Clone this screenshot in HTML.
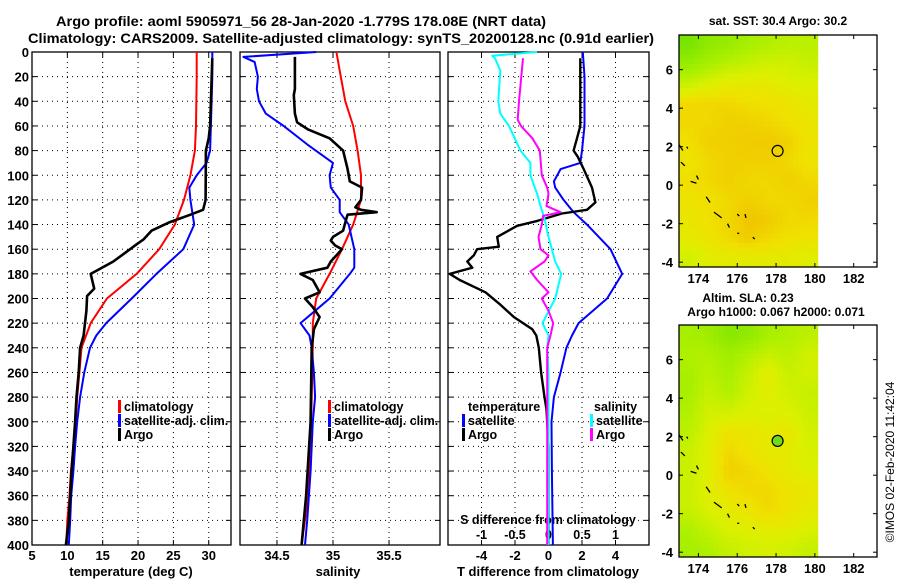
<!DOCTYPE html>
<html><head><meta charset="utf-8"><style>
html,body{margin:0;padding:0;background:#fff}
svg{display:block}
text{font-family:"Liberation Sans",Arial,sans-serif;font-weight:bold;fill:#000}
</style></head><body>
<svg id="fig" width="900" height="580" viewBox="0 0 900 580" xmlns="http://www.w3.org/2000/svg">
<text x="56" y="26" font-size="14" textLength="490" lengthAdjust="spacingAndGlyphs">Argo profile: aoml 5905971_56 28-Jan-2020 -1.779S 178.08E (NRT data)</text>
<text x="28" y="43" font-size="14" textLength="626" lengthAdjust="spacingAndGlyphs">Climatology: CARS2009. Satellite-adjusted climatology: synTS_20200128.nc (0.91d earlier)</text>
<text x="778" y="25" font-size="12" text-anchor="middle">sat. SST: 30.4 Argo: 30.2</text>
<text x="748" y="302" font-size="12" text-anchor="middle">Altim. SLA: 0.23</text>
<text x="776" y="316" font-size="12" text-anchor="middle">Argo h1000: 0.067 h2000: 0.071</text>
<text transform="translate(894,462) rotate(-90)" font-size="12" font-weight="normal" style="font-weight:normal" text-anchor="middle">©IMOS 02-Feb-2020 11:42:04</text>
<g id="plots"></g>
</svg>
<script>
// ---- data (depth in m) ----
const tClimDepth = [0,20,60,80,100,120,140,160,180,200,220,240,260,280,300,320,340,360,380,400];
const tClimVal   = [28.3,28.3,28.2,28.05,27.4,26.5,25.2,23.0,19.8,15.6,13.3,12.0,11.7,11.4,11.2,10.85,10.5,10.3,10.0,9.85];
const tSatDepth = [0,20,60,80,90,100,110,120,140,160,180,200,220,230,240,260,280,300,320,340,360,380,400];
const tSatVal   = [30.5,30.5,30.3,30.2,29.7,28.3,27.25,27.4,27.95,26.4,22.6,19.1,15.5,14.1,13.2,12.4,11.8,11.4,11.1,10.85,10.55,10.4,10.2];
const tArgoDepth = [5,60,70,80,120,128,132,138,145,152,156,162,170,176,180,192,198,210,230,240,260,280,300,320,340,360,380,400];
const tArgoVal   = [30.5,30.2,30.0,29.6,29.55,29.2,27.4,24.5,21.9,20.8,19.8,18.4,16.5,14.6,13.3,13.8,12.8,12.7,12.3,11.8,11.6,11.3,11.1,10.85,10.6,10.4,10.2,9.8];

const sClimDepth = [0,20,40,60,80,100,120,140,160,180,200,220,240,280,320,360,400];
const sClimVal   = [35.03,35.07,35.11,35.18,35.22,35.25,35.25,35.18,35.08,34.97,34.85,34.82,34.82,34.81,34.80,34.78,34.72];
const sSatDepth = [0,4,8,20,30,40,50,60,75,90,100,110,120,130,140,160,175,180,200,210,220,230,240,260,280,300,340,380,400];
const sSatVal   = [34.85,34.2,34.3,34.33,34.32,34.34,34.4,34.56,34.77,35.0,34.97,34.98,35.06,35.06,35.14,35.19,35.19,35.15,34.97,34.84,34.71,34.79,34.81,34.83,34.84,34.82,34.8,34.77,34.75];
const sArgoDepth = [4,30,35,50,57,63,70,80,95,105,110,120,126,128,130,132,135,145,150,153,157,160,170,175,180,185,195,200,207,215,225,240,300,360,400];
const sArgoVal   = [34.66,34.66,34.65,34.66,34.68,34.78,34.97,35.09,35.13,35.15,35.26,35.25,35.2,35.25,35.39,35.13,35.12,35.09,35.0,34.98,35.02,35.08,34.98,34.95,34.71,34.82,34.88,34.75,34.82,34.88,34.83,34.81,34.8,34.76,34.72];

const dtSatDepth = [0,20,60,80,90,95,105,110,120,130,140,160,180,200,220,230,240,260,280,300,340,400];
const dtSatVal   = [2.05,2.15,2.15,2.0,1.9,0.72,0.32,0.4,0.9,1.5,2.3,3.7,4.4,3.5,1.8,1.4,1.07,0.72,0.32,0.18,0.2,0.26];
const dtArgoDepth = [5,60,70,80,85,95,110,122,128,131,137,141,150,158,160,165,170,175,180,185,195,205,215,225,230,240,260,280,290,320,360,400];
const dtArgoVal   = [1.9,1.9,1.7,1.5,1.75,2.1,2.6,2.8,2.3,0.8,-0.67,-1.87,-3.06,-2.97,-4.26,-4.46,-4.85,-4.55,-5.9,-5.3,-3.76,-2.87,-2.07,-0.97,-0.73,-0.58,-0.44,-0.24,-0.12,0.0,0.0,0.0];
const dsSatDepth = [0,3,5,15,40,50,60,80,90,100,115,125,135,150,170,180,200,220,230,240,260,300,400];
const dsSatVal   = [-0.17,-0.84,-0.8,-0.72,-0.75,-0.72,-0.59,-0.42,-0.27,-0.27,-0.17,-0.12,-0.06,0.0,0.1,0.19,0.1,-0.09,0.0,-0.02,0.0,0.0,0.0];
const dsArgoDepth = [5,40,55,60,70,80,100,110,115,125,130,133,140,150,160,165,170,178,185,195,200,210,220,230,240,300,400];
const dsArgoVal   = [-0.38,-0.44,-0.46,-0.41,-0.24,-0.13,-0.1,-0.02,0.0,-0.03,0.18,-0.08,-0.1,-0.15,-0.12,0.0,-0.06,-0.27,-0.17,0.0,-0.1,0.0,0.07,0.03,-0.02,-0.02,-0.02];

const depthTicks = [0,20,40,60,80,100,120,140,160,180,200,220,240,260,280,300,320,340,360,380,400];
const tempTicks = [5,10,15,20,25,30];
const salTicks = [34.5,35,35.5];
const salTickLabels = ["34.5","35","35.5"];
const dtTicks = [-4,-2,0,2,4];
const dsTicks = [-1,-0.5,0,0.5,1];
const dsTickLabels = ["-1","-0.5","0","0.5","1"];

// map fields (value 0=green .. 1=orange), rows top->bottom, cols west->east
const sstField = [
 [0.15,0.3,0.35,0.45,0.5,0.55,0.55],
 [0.35,0.45,0.55,0.6,0.65,0.65,0.6],
 [0.6,0.7,0.75,0.75,0.75,0.7,0.7],
 [0.85,0.85,0.85,0.82,0.82,0.8,0.75],
 [0.85,0.85,0.88,0.88,0.85,0.82,0.78],
 [0.82,0.88,0.88,0.9,0.9,0.88,0.8],
 [0.8,0.85,0.88,0.88,0.88,0.85,0.8],
 [0.82,0.85,0.88,0.85,0.85,0.88,0.85],
 [0.8,0.82,0.85,0.88,0.85,0.85,0.88],
 [0.78,0.82,0.85,0.92,0.9,0.85,0.85],
 [0.75,0.8,0.85,0.9,0.85,0.82,0.8],
 [0.65,0.72,0.75,0.75,0.75,0.75,0.72]
];
const slaField = [
 [0.45,0.4,0.25,0.3,0.45,0.5,0.55],
 [0.5,0.5,0.4,0.5,0.6,0.55,0.65],
 [0.45,0.55,0.45,0.6,0.75,0.6,0.65],
 [0.45,0.6,0.5,0.65,0.72,0.65,0.6],
 [0.5,0.65,0.65,0.7,0.7,0.7,0.62],
 [0.55,0.7,0.8,0.78,0.75,0.78,0.65],
 [0.6,0.72,0.85,0.8,0.75,0.75,0.68],
 [0.62,0.72,0.88,0.85,0.8,0.75,0.7],
 [0.62,0.72,0.82,0.85,0.85,0.8,0.78],
 [0.6,0.7,0.75,0.8,0.85,0.8,0.75],
 [0.5,0.6,0.7,0.72,0.75,0.75,0.7],
 [0.45,0.5,0.6,0.65,0.68,0.65,0.6]
];
const argoLon = 178.08, argoLat = 1.78;
const lonTicks = [174,176,178,180,182];
const latTicks = [6,4,2,0,-2,-4];

// ---- helpers ----
const NS = "http://www.w3.org/2000/svg";
const root = document.getElementById('plots');
function mk(tag, attrs, parent){ const e=document.createElementNS(NS,tag); for(const k in attrs) e.setAttribute(k,attrs[k]); (parent||root).appendChild(e); return e; }
function txt(s,x,y,attrs,parent){ const e=mk('text',Object.assign({x:x,y:y,'font-size':13},attrs||{}),parent); e.textContent=s; return e; }

const Y0=52, Y1=545;
function yDepth(d){ return Y0 + d*(Y1-Y0)/400; }

function panel(name, x0, x1, xmin, xmax, gridVals, showDepthLabels){
  const g = mk('g',{});
  
  
  const xs = v => x0 + (v-xmin)*(x1-x0)/(xmax-xmin);
  // grid
  depthTicks.forEach(d=>{ if(d>0&&d<400){ const l=mk('line',{x1:x0,x2:x1,y1:yDepth(d),y2:yDepth(d),stroke:'#000','stroke-width':1,'stroke-dasharray':'1,4'},g);
     
    mk('line',{x1:x0,x2:x0+5,y1:yDepth(d),y2:yDepth(d),stroke:'#000'},g); mk('line',{x1:x1-5,x2:x1,y1:yDepth(d),y2:yDepth(d),stroke:'#000'},g);} });
  gridVals.forEach(v=>{ const X=xs(v); const l=mk('line',{x1:X,x2:X,y1:Y0,y2:Y1,stroke:'#000','stroke-width':1,'stroke-dasharray':'1,4'},g);
     
    mk('line',{x1:X,x2:X,y1:Y1-5,y2:Y1,stroke:'#000'},g); mk('line',{x1:X,x2:X,y1:Y0,y2:Y0+5,stroke:'#000'},g); });
  const r = mk('rect',{x:x0,y:Y0,width:x1-x0,height:Y1-Y0,fill:'none',stroke:'#000','stroke-width':1.3},g);
   
  if(showDepthLabels){ depthTicks.forEach(d=>{ const t=txt(String(d),29,yDepth(d)+5,{'text-anchor':'end'},g);
      }); }
  return {g, xs};
}
function line(p, depths, vals, color, w, name){
  const pts = depths.map((d,i)=> p.xs(vals[i]).toFixed(1)+','+yDepth(d).toFixed(1)).join(' ');
  const pl = mk('polyline',{points:pts,fill:'none',stroke:color,'stroke-width':w,'stroke-linejoin':'round'},p.g);
  
  
}
function legend(g, x, y, color, label){
  const b = mk('rect',{x:x,y:y-11,width:3,height:13,fill:color},g);
   
  const t = txt(label,x+6,y,{'font-size':12.5},g);
   
}

// Panel 1: temperature
const p1 = panel('temperature-panel', 32, 231, 5, 33.15, [10,15,20,25,30], true);
tempTicks.forEach(v=>{ const t=txt(String(v),p1.xs(v),560,{'text-anchor':'middle'},p1.g);   });
{ const t=txt('temperature (deg C)',131,576,{'text-anchor':'middle'},p1.g);   }
line(p1,tClimDepth,tClimVal,'#ff0000',2,'temperature-climatology-line');
line(p1,tSatDepth,tSatVal,'#0000ff',2,'temperature-satellite-line');
line(p1,tArgoDepth,tArgoVal,'#000000',2.6,'temperature-argo-line');
legend(p1.g,118,411,'#ff0000','climatology');
legend(p1.g,118,425,'#0000ff','satellite-adj. clim.');
legend(p1.g,118,439,'#000000','Argo');

// Panel 2: salinity
const p2 = panel('salinity-panel', 240, 440, 34.17, 35.955, [34.5,35,35.5], false);
salTicks.forEach((v,i)=>{ const t=txt(salTickLabels[i],p2.xs(v),560,{'text-anchor':'middle'},p2.g);   });
{ const t=txt('salinity',338,576,{'text-anchor':'middle'},p2.g);   }
line(p2,sClimDepth,sClimVal,'#ff0000',2,'salinity-climatology-line');
line(p2,sSatDepth,sSatVal,'#0000ff',2,'salinity-satellite-line');
line(p2,sArgoDepth,sArgoVal,'#000000',2.6,'salinity-argo-line');
legend(p2.g,328,411,'#ff0000','climatology');
legend(p2.g,328,425,'#0000ff','satellite-adj. clim.');
legend(p2.g,328,439,'#000000','Argo');

// Panel 3: differences
const p3 = panel('difference-panel', 448, 649, -6, 6, [-4,-2,0,2,4], false);
const xsS = v => p3.xs(v*4);
dtTicks.forEach(v=>{ const t=txt(String(v),p3.xs(v),560,{'text-anchor':'middle'},p3.g);   });
{ const t=txt('T difference from climatology',548,576,{'text-anchor':'middle'},p3.g);   }
{ const t=txt('S difference from climatology',548,524,{'text-anchor':'middle','font-size':12.5},p3.g);   }
dsTicks.forEach((v,i)=>{ const t=txt(dsTickLabels[i],xsS(v),539,{'text-anchor':'middle','font-size':12.5},p3.g);   });
function sline(depths, vals, color, name){
  const pts = depths.map((d,i)=> xsS(vals[i]).toFixed(1)+','+yDepth(d).toFixed(1)).join(' ');
  const pl = mk('polyline',{points:pts,fill:'none',stroke:color,'stroke-width':2,'stroke-linejoin':'round'},p3.g);
  
  
}
line(p3,dtSatDepth,dtSatVal,'#0000ff',2,'t-diff-satellite-line');
line(p3,dtArgoDepth,dtArgoVal,'#000000',2.4,'t-diff-argo-line');
sline(dsSatDepth,dsSatVal,'#00ffff','s-diff-satellite-line');
sline(dsArgoDepth,dsArgoVal,'#ff00ff','s-diff-argo-line');
{ const t=txt('temperature',468,411,{'font-size':12.5},p3.g);   }
legend(p3.g,462,425,'#0000ff','satellite');
legend(p3.g,462,439,'#000000','Argo');
{ const t=txt('salinity',594,411,{'font-size':12.5},p3.g);   }
legend(p3.g,590,425,'#00ffff','satellite');
legend(p3.g,590,439,'#ff00ff','Argo');

// ---- maps ----
function colorOf(v){
  const stops=[[0,[96,224,0]],[0.5,[176,240,0]],[0.7,[220,240,0]],[0.82,[240,224,0]],[1,[240,176,0]]];
  for(let i=1;i<stops.length;i++){ if(v<=stops[i][0]){ const a=stops[i-1],b=stops[i]; const t=(v-a[0])/(b[0]-a[0]);
    const c=a[1].map((q,k)=>Math.round(q+(b[1][k]-q)*t)); return 'rgb('+c.join(',')+')'; } }
  return 'rgb(240,176,0)';
}
const coast = [[173.0,2.1,173.2,1.8],[173.1,1.2,173.3,1.0],[173.4,2.0,173.45,1.9],[173.6,0.2,173.9,0.1],[173.9,0.5,174.0,0.3],[174.4,-0.6,174.6,-0.9],[174.8,-1.4,175.2,-1.7],[175.5,-2.0,175.6,-2.2],[176.0,-1.5,176.1,-1.6],[176.4,-1.5,176.45,-1.7],[176.0,-2.5,176.1,-2.5],[176.8,-2.7,176.9,-2.8]];
function map(name, top, bottom, latTop, latBot, field, filled){
  const g = mk('g',{});
  
  
  const L=679, R=877, lonMin=173, lonMax=183.2;
  const xl = lon => L + (lon-lonMin)*(R-L)/(lonMax-lonMin);
  const yl = lat => top + (latTop-lat)*(bottom-top)/(latTop-latBot);
  const dataR = xl(180.15);
  const rows=field.length, cols=field[0].length;
  const cw=(dataR-L)/cols, ch=(bottom-top)/rows;
  // draw as smooth-ish: subdivide cells with bilinear interpolation
  const sub=4;
  for(let r=0;r<rows*sub;r++){ for(let c=0;c<cols*sub;c++){
    const fr=Math.min(rows-1,Math.max(0,(r+0.5)/sub-0.5)), fc=Math.min(cols-1,Math.max(0,(c+0.5)/sub-0.5));
    const r0=Math.floor(fr), c0=Math.floor(fc), r1=Math.min(rows-1,r0+1), c1=Math.min(cols-1,c0+1);
    const tr=fr-r0, tc=fc-c0;
    const v=(field[r0][c0]*(1-tc)+field[r0][c1]*tc)*(1-tr)+(field[r1][c0]*(1-tc)+field[r1][c1]*tc)*tr;
    mk('rect',{x:(L+c*cw/sub).toFixed(2),y:(top+r*ch/sub).toFixed(2),width:(cw/sub+0.4).toFixed(2),height:(ch/sub+0.4).toFixed(2),fill:colorOf(v)},g);
  }}
  coast.forEach(s=>{ mk('line',{x1:xl(s[0]),y1:yl(s[1]),x2:xl(s[2]),y2:yl(s[3]),stroke:'#000','stroke-width':1.3},g); });
  const fr = mk('rect',{x:L,y:top,width:R-L,height:bottom-top,fill:'none',stroke:'#000','stroke-width':1.3},g);
   
  lonTicks.forEach(v=>{ const X=xl(v); mk('line',{x1:X,x2:X,y1:bottom-4,y2:bottom,stroke:'#000'},g); mk('line',{x1:X,x2:X,y1:top,y2:top+4,stroke:'#000'},g);
    const t=txt(String(v),X,bottom+16,{'text-anchor':'middle','font-size':13},g);   });
  latTicks.forEach(v=>{ const Y=yl(v); mk('line',{x1:L,x2:L+4,y1:Y,y2:Y,stroke:'#000'},g); mk('line',{x1:R-4,x2:R,y1:Y,y2:Y,stroke:'#000'},g);
    const t=txt(String(v),673,Y+5,{'text-anchor':'end','font-size':13},g);   });
  const c = mk('circle',{cx:xl(argoLon),cy:yl(argoLat),r:5.5,fill:filled?'#70d820':'none',stroke:'#000','stroke-width':1.2},g);
   
}
map('sst-map', 35, 267, 7.8, -4.25, sstField, false);
map('sla-map', 325, 557, 7.8, -4.25, slaField, true);
</script>
</body></html>
